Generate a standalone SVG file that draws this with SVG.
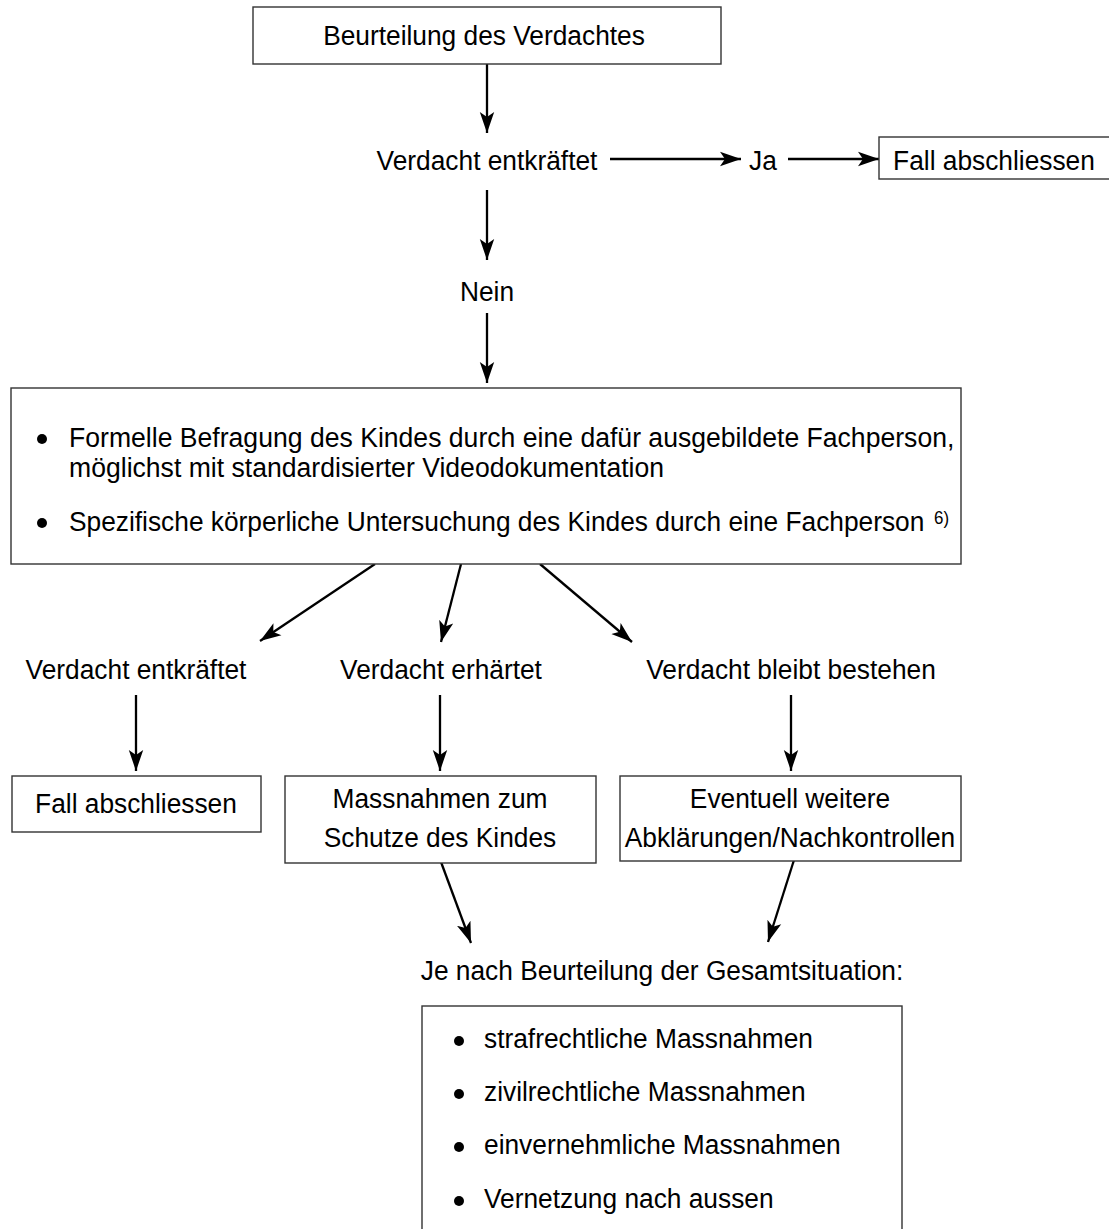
<svg xmlns="http://www.w3.org/2000/svg" width="1109" height="1229" viewBox="0 0 1109 1229">
<style>
text{font-family:"Liberation Sans",Arial,sans-serif;font-size:28px;fill:#000}
.c{text-anchor:middle}
.sup{font-size:18px}
.box{fill:#fff;stroke:#333;stroke-width:1.4}
.arr{stroke:#000;stroke-width:2.3;fill:none;marker-end:url(#ah)}
.dot{fill:#000}
</style>
<defs>
<marker id="ah" markerUnits="userSpaceOnUse" markerWidth="23" markerHeight="16" refX="21" refY="8" orient="auto" viewBox="0 0 23 16">
<path d="M0,0.8 L21,8 L0,15.2 L5,8 z" fill="#000"/>
</marker>
</defs>
<rect width="1109" height="1229" fill="#fff"/>
<g id="connectors">
<line class="arr" x1="487" y1="64" x2="487" y2="133"/>
<line class="arr" x1="610" y1="159" x2="741" y2="159"/>
<line class="arr" x1="788" y1="159" x2="879" y2="159"/>
<line class="arr" x1="487" y1="190" x2="487" y2="260"/>
<line class="arr" x1="487" y1="313" x2="487" y2="383"/>
<line class="arr" x1="375" y1="564" x2="260" y2="641"/>
<line class="arr" x1="461" y1="564" x2="441" y2="642"/>
<line class="arr" x1="540" y1="564" x2="632" y2="642"/>
<line class="arr" x1="136" y1="695" x2="136" y2="771"/>
<line class="arr" x1="440" y1="695" x2="440" y2="771"/>
<line class="arr" x1="791" y1="695" x2="791" y2="771"/>
<line class="arr" x1="441" y1="862" x2="471" y2="943"/>
<line class="arr" x1="794" y1="860" x2="768" y2="942"/>
</g>
<g id="n_beurteilung">
<rect class="box" x="253" y="7" width="468" height="57"/>
<text class="c" transform="translate(484 45) scale(.94 1)">Beurteilung des Verdachtes</text>
</g>
<g id="n_entkraeftet1">
<text class="c" transform="translate(487 170) scale(.94 1)">Verdacht entkräftet</text>
</g>
<g id="n_ja">
<text class="c" transform="translate(763 170) scale(.94 1)">Ja</text>
</g>
<g id="n_fall1">
<rect class="box" x="879" y="137" width="232" height="42"/>
<text class="c" transform="translate(994 170) scale(.94 1)">Fall abschliessen</text>
</g>
<g id="n_nein">
<text class="c" transform="translate(487 301) scale(.94 1)">Nein</text>
</g>
<g id="n_befragung">
<rect class="box" x="11" y="388" width="950" height="176"/>
<circle class="dot" cx="42" cy="439" r="5"/>
<text transform="translate(69 447) scale(.95 1)">Formelle Befragung des Kindes durch eine dafür ausgebildete Fachperson,</text>
<text transform="translate(69 477) scale(.95 1)">möglichst mit standardisierter Videodokumentation</text>
<circle class="dot" cx="42" cy="523" r="5"/>
<text transform="translate(69 531) scale(.94 1)">Spezifische körperliche Untersuchung des Kindes durch eine Fachperson</text>
<text class="sup" transform="translate(934 524) scale(.94 1)">6)</text>
</g>
<g id="n_entkraeftet2">
<text class="c" transform="translate(136 679) scale(.94 1)">Verdacht entkräftet</text>
</g>
<g id="n_erhaertet">
<text class="c" transform="translate(441 679) scale(.94 1)">Verdacht erhärtet</text>
</g>
<g id="n_bleibt">
<text class="c" transform="translate(791 679) scale(.94 1)">Verdacht bleibt bestehen</text>
</g>
<g id="n_fall2">
<rect class="box" x="12" y="776" width="249" height="56"/>
<text class="c" transform="translate(136 813) scale(.94 1)">Fall abschliessen</text>
</g>
<g id="n_massnahmen">
<rect class="box" x="285" y="776" width="311" height="87"/>
<text class="c" transform="translate(440 808) scale(.94 1)">Massnahmen zum</text>
<text class="c" transform="translate(440 847) scale(.94 1)">Schutze des Kindes</text>
</g>
<g id="n_eventuell">
<rect class="box" x="620" y="776" width="341" height="85"/>
<text class="c" transform="translate(790 808) scale(.94 1)">Eventuell weitere</text>
<text class="c" transform="translate(790 847) scale(.94 1)">Abklärungen/Nachkontrollen</text>
</g>
<g id="n_jenach">
<text class="c" transform="translate(662 980) scale(.94 1)">Je nach Beurteilung der Gesamtsituation:</text>
</g>
<g id="n_liste">
<rect class="box" x="422" y="1006" width="480" height="240"/>
<circle class="dot" cx="459" cy="1041" r="5"/>
<text transform="translate(484 1048) scale(.94 1)">strafrechtliche Massnahmen</text>
<circle class="dot" cx="459" cy="1094" r="5"/>
<text transform="translate(484 1101) scale(.94 1)">zivilrechtliche Massnahmen</text>
<circle class="dot" cx="459" cy="1147" r="5"/>
<text transform="translate(484 1154) scale(.94 1)">einvernehmliche Massnahmen</text>
<circle class="dot" cx="459" cy="1201" r="5"/>
<text transform="translate(484 1208) scale(.94 1)">Vernetzung nach aussen</text>
</g>
</svg>
